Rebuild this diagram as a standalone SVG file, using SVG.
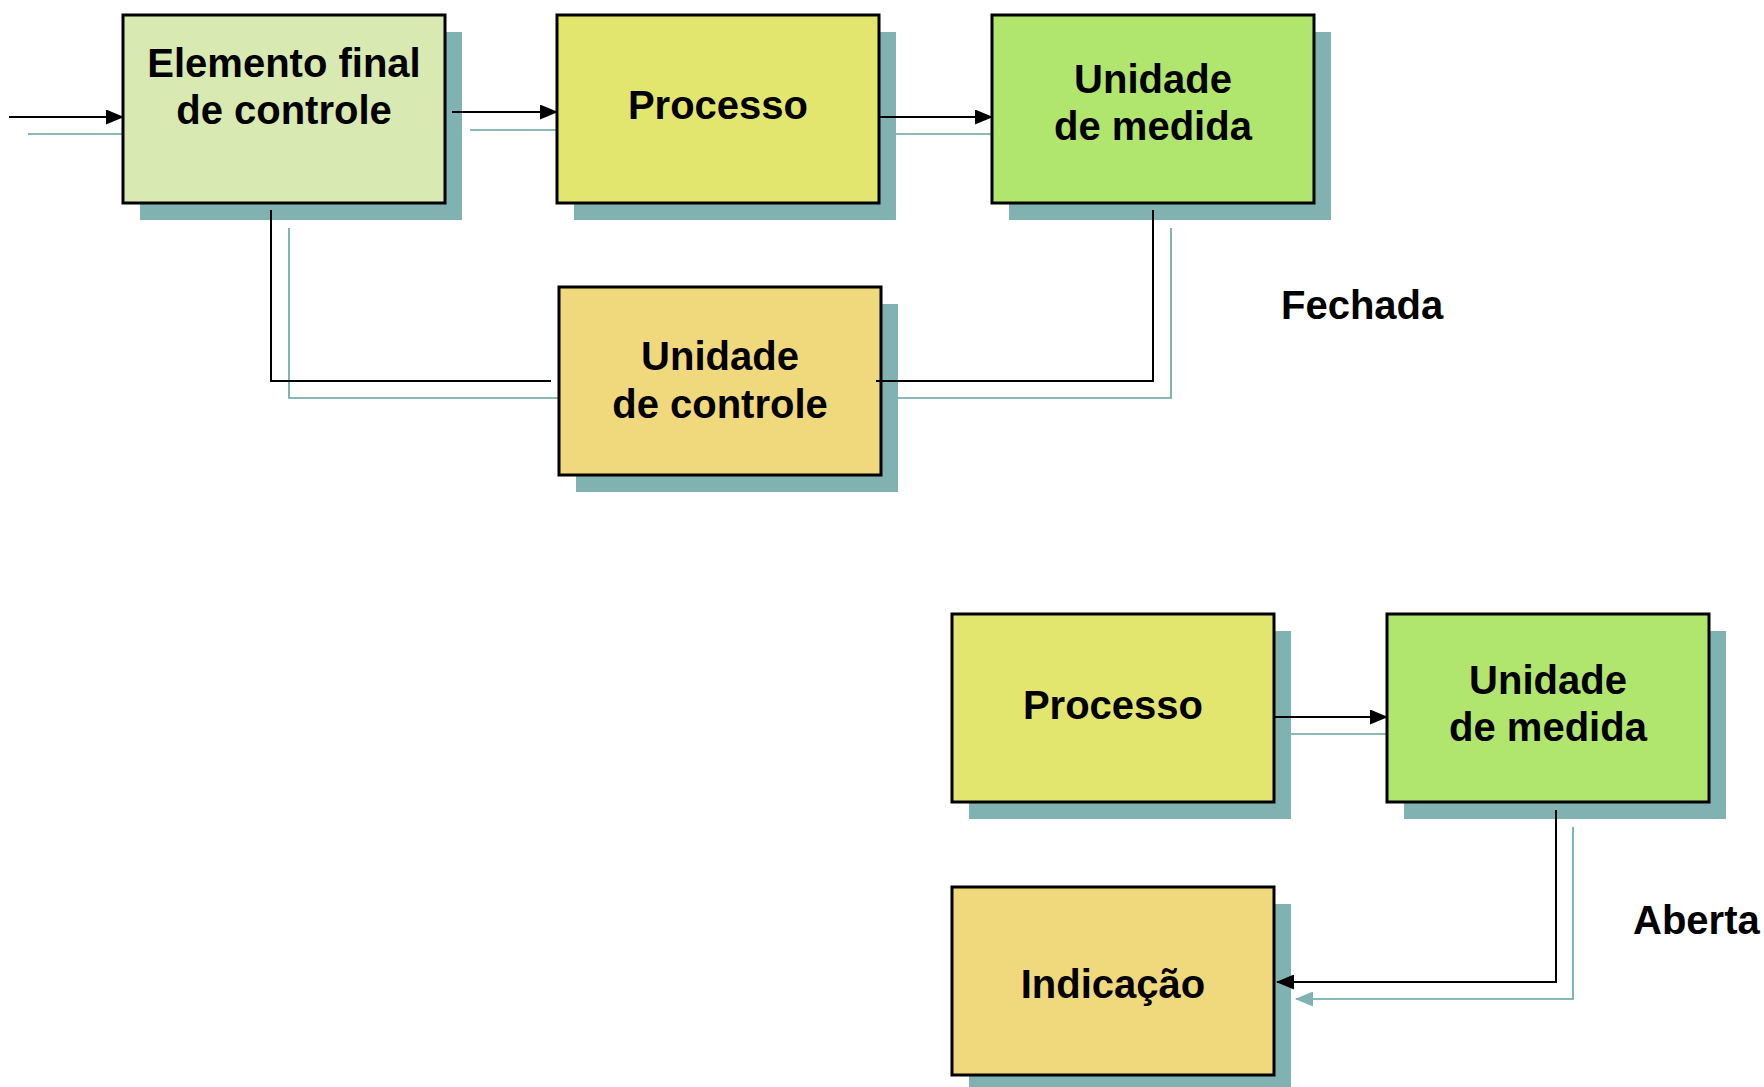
<svg xmlns="http://www.w3.org/2000/svg" width="1764" height="1087" viewBox="0 0 1764 1087">
<defs>
<style>
.box{stroke:#000;stroke-width:3}
.sh{fill:#7fb2b0}
.t{font-family:"Liberation Sans",Arial,sans-serif;font-weight:bold;font-size:40px;fill:#000;text-anchor:middle}
.lbl{font-family:"Liberation Sans",Arial,sans-serif;font-weight:bold;font-size:40px;fill:#000}
.c{fill:none;stroke:#000;stroke-width:2}
.ct{fill:none;stroke:#5fa3a0;stroke-width:1.6}
</style>
<marker id="ab2" markerWidth="18" markerHeight="15" refX="17" refY="7.5" orient="auto" markerUnits="userSpaceOnUse" viewBox="0 0 18 15">
<path d="M0,0 L18,7.5 L0,15 z" fill="#000"/>
</marker>
<marker id="at" markerWidth="18" markerHeight="15" refX="17" refY="7.5" orient="auto" markerUnits="userSpaceOnUse" viewBox="0 0 18 15">
<path d="M0,0 L18,7.5 L0,15 z" fill="#7fb2b0"/>
</marker>
</defs>
<rect width="1764" height="1087" fill="#fff"/>

<g id="connector-shadows">
<line class="ct" x1="28" y1="134" x2="123" y2="134"/>
<line class="ct" x1="470" y1="130" x2="557" y2="130"/>
<line class="ct" x1="896" y1="134" x2="992" y2="134"/>
<polyline class="ct" points="1171,228 1171,398 894,398"/>
<polyline class="ct" points="568,398 289,398 289,228"/>
<line class="ct" x1="1291" y1="734" x2="1387" y2="734"/>
<polyline class="ct" points="1573,827 1573,999 1296,999" marker-end="url(#at)"/>
</g>

<g id="n-elemento">
<rect class="sh" x="140" y="32" width="322" height="188"/>
<rect class="box" x="123" y="15" width="322" height="188" fill="#d9e9b2"/>
<text class="t" x="284" y="77">Elemento final</text>
<text class="t" x="284" y="124">de controle</text>
</g>

<g id="n-processo">
<rect class="sh" x="574" y="32" width="322" height="188"/>
<rect class="box" x="557" y="15" width="322" height="188" fill="#e2e66e"/>
<text class="t" x="718" y="119">Processo</text>
</g>

<g id="n-medida">
<rect class="sh" x="1009" y="32" width="322" height="188"/>
<rect class="box" x="992" y="15" width="322" height="188" fill="#b0e66e"/>
<text class="t" x="1153" y="93">Unidade</text>
<text class="t" x="1153" y="140">de medida</text>
</g>

<g id="n-controle">
<rect class="sh" x="576" y="304" width="322" height="188"/>
<rect class="box" x="559" y="287" width="322" height="188" fill="#f0d87d"/>
<text class="t" x="720" y="370">Unidade</text>
<text class="t" x="720" y="418">de controle</text>
</g>

<g id="l-fechada">
<text class="lbl" x="1281" y="319">Fechada</text>
</g>

<g id="n-processo2">
<rect class="sh" x="969" y="631" width="322" height="188"/>
<rect class="box" x="952" y="614" width="322" height="188" fill="#e2e66e"/>
<text class="t" x="1113" y="719">Processo</text>
</g>

<g id="n-medida2">
<rect class="sh" x="1404" y="631" width="322" height="188"/>
<rect class="box" x="1387" y="614" width="322" height="188" fill="#b0e66e"/>
<text class="t" x="1548" y="694">Unidade</text>
<text class="t" x="1548" y="741">de medida</text>
</g>

<g id="n-indicacao">
<rect class="sh" x="969" y="904" width="322" height="188"/>
<rect class="box" x="952" y="887" width="322" height="188" fill="#f0d87d"/>
<text class="t" x="1113" y="998">Indicação</text>
</g>

<g id="l-aberta">
<text class="lbl" x="1633" y="934">Aberta</text>
</g>

<g id="connectors">
<line class="c" x1="9" y1="117" x2="123" y2="117" marker-end="url(#ab2)"/>
<line class="c" x1="452" y1="112" x2="557" y2="112" marker-end="url(#ab2)"/>
<line class="c" x1="879" y1="117" x2="992" y2="117" marker-end="url(#ab2)"/>
<polyline class="c" points="1153,210 1153,381 876,381"/>
<polyline class="c" points="551,381 271,381 271,210"/>
<line class="c" x1="1274" y1="717" x2="1387" y2="717" marker-end="url(#ab2)"/>
<polyline class="c" points="1556,810 1556,982 1277,982" marker-end="url(#ab2)"/>
</g>
</svg>
